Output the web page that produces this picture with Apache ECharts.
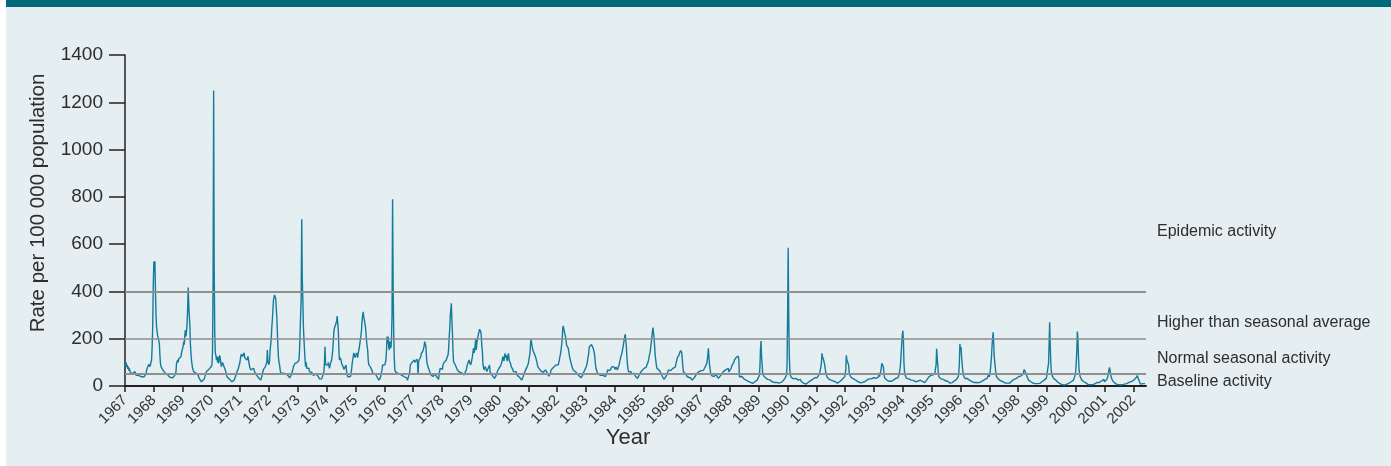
<!DOCTYPE html>
<html>
<head>
<meta charset="utf-8">
<script src="https://cdn.jsdelivr.net/npm/echarts@6/dist/echarts.min.js"></script>
<style>
html,body{margin:0;padding:0;background:#ffffff;}
#bg{position:absolute;left:6px;top:0;width:1385px;height:466px;background:#e5eef1;}
#bar{position:absolute;left:6px;top:0;width:1385px;height:7px;background:#006a7b;}
#chart{position:absolute;left:0;top:0;width:1391px;height:466px;}
</style>
</head>
<body>
<div id="bg"></div>
<div id="bar"></div>
<div id="chart"></div>
<script>
// Weekly rate per 100 000 population, [week of year, rate]
const y1967 = [[1,96],[2,85],[3,100],[4,80],[5,90],[6,72],[7,82],[8,65],[9,75],[10,60],[12,68],[14,52],[15,58],[17,48],[19,61],[21,45],[22,50],[24,40],[25,45],[27,38],[28,51],[30,40],[31,36],[33,32],[35,38],[37,35],[39,50],[40,68],[42,75],[44,92],[46,82],[47,85],[48,80],[49,110],[50,166],[51,250],[52,420]];
const y1968 = [[1,526],[2,480],[3,528],[4,400],[5,300],[6,250],[7,230],[8,212],[9,220],[10,205],[11,180],[12,130],[13,95],[14,82],[15,90],[16,75],[17,80],[18,65],[20,61],[21,68],[22,54],[24,50],[25,55],[26,47],[28,42],[30,37],[31,32],[33,40],[35,35],[37,30],[39,45],[41,60],[42,95],[43,103],[44,110],[45,100],[46,115],[48,120],[50,124],[51,140],[52,150]];
const y1969 = [[1,150],[2,170],[3,188],[4,175],[5,215],[6,237],[7,210],[8,230],[9,260],[10,320],[11,417],[12,350],[13,300],[14,260],[15,180],[16,140],[17,110],[18,90],[19,75],[21,61],[23,65],[25,55],[27,51],[29,45],[31,32],[33,25],[35,18],[37,11],[38,15],[40,30],[42,45],[44,61],[46,68],[48,70],[50,65],[51,72],[52,80]];
const y1970 = [[1,80],[2,90],[3,150],[4,450],[5,1250],[6,500],[7,220],[8,140],[9,130],[10,110],[11,125],[12,100],[13,124],[14,96],[15,110],[16,130],[17,117],[18,95],[19,82],[21,100],[22,103],[24,80],[26,68],[28,50],[29,39],[31,35],[32,32],[34,28],[35,25],[37,20],[38,18],[40,23],[42,25],[44,32],[46,50],[47,61],[49,70],[50,75],[52,95]];
const y1971 = [[1,110],[2,125],[3,135],[4,140],[5,125],[7,124],[8,140],[9,120],[10,127],[12,115],[13,110],[15,125],[16,117],[18,80],[20,68],[22,61],[23,65],[25,75],[27,60],[29,51],[31,50],[32,47],[34,35],[35,32],[37,28],[38,25],[40,40],[41,54],[43,70],[44,75],[46,80],[47,82],[49,100],[50,152],[51,100],[52,96]];
const y1972 = [[1,90],[2,110],[3,152],[4,160],[5,200],[6,250],[7,280],[8,320],[9,364],[10,375],[11,385],[12,383],[13,370],[14,330],[15,293],[16,230],[17,166],[18,120],[19,100],[20,89],[21,70],[22,55],[23,47],[25,52],[26,54],[28,50],[29,47],[31,52],[33,56],[35,45],[36,39],[38,35],[39,32],[41,45],[42,54],[44,70],[45,82],[47,90],[48,96],[50,100],[51,103],[52,100]];
const y1973 = [[1,96],[2,100],[3,110],[4,150],[5,223],[6,300],[7,370],[8,705],[9,450],[10,364],[11,250],[12,200],[13,152],[14,110],[15,82],[16,100],[17,75],[18,68],[19,72],[21,75],[22,60],[24,54],[26,58],[27,61],[29,45],[30,39],[32,42],[34,50],[36,47],[38,40],[40,30],[42,25],[44,30],[46,32],[48,60],[49,96],[50,166],[51,90],[52,85]];
const y1974 = [[1,90],[2,95],[3,89],[4,100],[5,85],[6,75],[7,85],[8,96],[9,96],[10,110],[11,130],[12,152],[13,190],[14,230],[15,244],[16,250],[17,258],[18,260],[19,275],[20,296],[21,293],[22,237],[23,160],[24,110],[25,120],[26,117],[27,110],[28,95],[30,89],[31,80],[32,70],[33,68],[34,80],[36,89],[37,60],[39,39],[41,35],[42,32],[44,40],[45,47],[46,70],[47,95],[48,110],[50,140],[51,138],[52,120]];
const y1975 = [[1,124],[2,115],[3,140],[4,131],[5,120],[6,140],[7,150],[8,152],[9,180],[10,200],[11,216],[12,240],[13,279],[14,300],[15,314],[16,290],[17,280],[18,272],[19,250],[20,223],[21,190],[22,170],[23,152],[24,110],[25,90],[26,82],[27,90],[28,80],[29,75],[31,65],[32,54],[34,58],[35,61],[37,50],[38,47],[40,38],[41,32],[43,25],[44,18],[45,25],[46,35],[47,39],[49,70],[50,89],[51,92],[52,96]];
const y1976 = [[1,96],[2,90],[3,100],[4,110],[5,150],[6,209],[7,180],[8,209],[9,166],[10,152],[11,188],[12,195],[13,160],[14,200],[15,300],[16,790],[17,420],[18,230],[19,120],[20,70],[21,61],[22,58],[23,56],[24,61],[25,54],[27,52],[29,50],[31,47],[33,45],[35,42],[37,39],[39,37],[41,35],[43,25],[45,20],[46,18],[47,60],[48,89],[50,96],[51,100],[52,103]];
const y1977 = [[1,103],[2,105],[3,110],[4,100],[5,108],[6,96],[7,105],[8,113],[9,100],[10,47],[11,105],[12,110],[13,115],[14,117],[15,125],[16,138],[17,130],[18,145],[19,150],[20,152],[21,170],[22,188],[23,195],[24,170],[25,130],[26,100],[27,89],[28,80],[30,68],[31,60],[33,47],[35,55],[37,40],[38,32],[40,50],[42,45],[44,38],[46,32],[47,28],[48,50],[49,65],[50,75],[51,80],[52,82]];
const y1978 = [[1,82],[2,70],[3,90],[4,85],[5,100],[6,103],[7,95],[8,108],[9,110],[10,120],[11,125],[12,130],[13,152],[14,200],[15,237],[16,293],[17,320],[18,350],[19,280],[20,223],[21,150],[22,103],[23,100],[24,96],[25,90],[26,85],[27,82],[29,68],[31,65],[33,58],[35,61],[37,55],[39,50],[41,47],[43,55],[45,68],[47,90],[48,96],[50,110],[51,100],[52,92]];
const y1979 = [[1,89],[2,100],[3,110],[4,124],[5,130],[6,159],[7,140],[8,150],[9,173],[10,200],[11,152],[12,180],[13,195],[14,209],[15,220],[16,230],[17,240],[18,247],[19,230],[20,216],[21,170],[22,152],[23,96],[24,80],[25,68],[26,75],[27,82],[29,70],[30,61],[32,54],[33,60],[35,89],[36,60],[37,54],[39,47],[41,40],[42,39],[44,32],[46,40],[47,45],[49,60],[50,68],[52,75]];
const y1980 = [[1,75],[2,80],[3,85],[4,89],[5,100],[6,110],[7,124],[8,120],[9,105],[10,125],[11,138],[12,120],[13,131],[14,115],[15,105],[16,125],[17,138],[18,120],[19,105],[20,110],[21,95],[22,82],[23,85],[24,89],[25,70],[26,61],[28,58],[29,54],[31,60],[33,45],[34,39],[36,42],[38,35],[39,32],[41,25],[43,35],[45,50],[46,55],[48,68],[50,75],[51,82],[52,89]];
const y1981 = [[1,95],[2,110],[3,125],[4,138],[5,180],[6,197],[7,180],[8,166],[9,152],[10,160],[11,150],[12,145],[13,130],[14,124],[15,115],[16,110],[17,95],[18,82],[20,78],[21,75],[23,65],[24,68],[26,61],[28,58],[29,54],[31,65],[32,68],[34,61],[35,55],[36,47],[38,42],[39,39],[41,55],[42,68],[44,72],[45,75],[47,80],[48,82],[50,85],[51,89],[52,95]];
const y1982 = [[1,89],[2,95],[3,90],[4,96],[5,110],[6,124],[7,135],[8,152],[9,170],[10,195],[11,237],[12,254],[13,250],[14,230],[15,220],[16,209],[17,195],[18,173],[19,170],[20,166],[21,160],[22,152],[23,130],[24,117],[25,110],[27,89],[28,80],[30,68],[32,65],[33,61],[35,58],[36,54],[38,50],[39,47],[41,42],[42,39],[44,35],[45,32],[47,45],[48,54],[50,62],[51,68],[52,75]];
const y1983 = [[1,75],[2,85],[3,95],[4,110],[5,125],[6,138],[7,166],[8,173],[9,170],[10,165],[11,175],[12,178],[13,170],[14,160],[15,152],[16,140],[17,124],[18,95],[19,75],[20,68],[22,54],[24,58],[25,61],[27,45],[28,39],[30,51],[32,45],[34,40],[36,39],[37,45],[39,55],[40,68],[42,75],[44,65],[46,72],[48,82],[50,75],[52,80]];
const y1984 = [[1,75],[2,70],[3,80],[4,72],[6,68],[7,78],[8,82],[9,90],[10,103],[11,110],[12,124],[13,130],[14,140],[15,152],[16,165],[17,180],[18,195],[19,210],[20,219],[21,190],[22,166],[23,120],[24,89],[25,70],[26,60],[27,54],[29,58],[30,61],[32,50],[33,47],[35,52],[36,54],[38,42],[39,39],[41,35],[42,32],[44,40],[45,45],[47,55],[48,61],[50,65],[51,68],[52,70]];
const y1985 = [[1,70],[2,75],[3,68],[4,72],[5,82],[6,80],[7,90],[8,96],[9,100],[10,110],[11,124],[12,130],[13,145],[14,166],[15,185],[16,209],[17,230],[18,247],[19,225],[20,200],[21,166],[22,130],[23,110],[24,90],[25,75],[27,68],[28,72],[30,65],[31,60],[32,55],[33,47],[35,40],[36,32],[38,28],[39,25],[41,35],[43,47],[44,55],[46,68],[47,62],[49,60],[50,65],[52,70]];
const y1986 = [[1,65],[2,75],[3,70],[4,68],[5,72],[6,80],[7,89],[8,100],[9,110],[10,120],[11,124],[12,128],[13,131],[14,140],[15,145],[16,150],[17,152],[18,140],[19,110],[20,80],[21,61],[22,58],[24,54],[25,50],[26,47],[28,39],[30,35],[31,32],[33,35],[35,30],[37,25],[39,30],[40,32],[42,40],[43,47],[45,52],[46,54],[48,58],[49,61],[51,65],[52,68]];
const y1987 = [[1,65],[2,60],[3,68],[4,62],[5,66],[6,70],[7,75],[8,82],[9,85],[10,89],[11,95],[12,110],[13,130],[14,159],[15,120],[16,90],[17,75],[18,54],[19,50],[20,44],[21,47],[22,48],[24,40],[25,32],[27,45],[28,48],[30,40],[32,32],[33,35],[35,40],[37,47],[39,50],[41,61],[43,55],[45,68],[47,60],[48,62],[50,75],[51,60],[52,55]];
const y1988 = [[1,60],[2,62],[3,75],[4,70],[5,89],[6,85],[7,96],[8,100],[9,110],[10,112],[11,117],[12,120],[13,124],[14,126],[15,127],[16,127],[17,110],[18,39],[19,42],[21,37],[23,40],[24,35],[26,30],[27,32],[29,28],[30,25],[32,22],[34,20],[36,18],[38,15],[40,13],[42,11],[44,14],[46,18],[48,22],[50,25],[52,32]];
const y1989 = [[1,32],[2,45],[3,80],[4,152],[5,190],[6,124],[7,90],[8,54],[9,45],[11,39],[13,35],[15,32],[17,28],[19,25],[21,26],[23,20],[25,18],[27,22],[29,15],[31,12],[33,15],[35,11],[37,12],[39,13],[41,15],[43,18],[45,22],[47,25],[48,32],[50,35],[51,45],[52,90]];
const y1990 = [[1,300],[2,585],[3,300],[4,130],[5,68],[6,45],[7,39],[8,35],[10,32],[12,30],[14,28],[16,32],[18,29],[20,25],[22,22],[24,28],[26,18],[28,15],[30,12],[32,10],[34,8],[36,12],[38,15],[40,18],[42,22],[44,25],[46,28],[48,32],[50,35],[52,40]];
const y1991 = [[1,32],[2,35],[3,39],[4,42],[5,45],[6,47],[7,55],[8,68],[9,80],[10,96],[11,138],[12,124],[13,130],[14,110],[15,100],[16,89],[17,70],[18,55],[19,47],[20,40],[21,32],[23,30],[25,28],[27,25],[29,26],[31,22],[33,20],[35,18],[37,15],[39,12],[40,11],[42,15],[44,20],[46,25],[48,30],[50,35],[52,39]];
const y1992 = [[1,45],[2,68],[3,130],[4,110],[5,118],[6,110],[7,90],[8,60],[9,47],[10,40],[12,35],[14,32],[16,30],[18,28],[20,25],[22,20],[24,18],[26,15],[28,14],[30,12],[32,15],[34,13],[36,18],[38,20],[40,25],[42,28],[44,30],[46,32],[48,30],[50,32],[52,35]];
const y1993 = [[1,32],[3,30],[5,33],[7,35],[9,38],[10,56],[11,40],[12,48],[13,61],[14,75],[15,96],[16,103],[17,100],[18,80],[19,47],[20,35],[22,28],[24,25],[26,22],[28,20],[30,18],[32,20],[34,22],[36,25],[38,28],[40,32],[42,35],[44,35],[46,47],[47,60],[48,75],[49,100],[50,138],[51,180],[52,215]];
const y1994 = [[1,234],[2,195],[3,96],[4,60],[5,47],[6,40],[8,32],[10,35],[12,30],[14,28],[16,25],[18,22],[20,24],[22,20],[24,18],[26,15],[28,20],[30,18],[32,25],[34,22],[36,20],[38,18],[40,14],[42,20],[44,25],[46,32],[48,39],[50,42],[52,45]];
const y1995 = [[1,42],[2,45],[3,44],[4,47],[5,50],[6,52],[7,56],[8,75],[9,89],[10,157],[11,120],[12,89],[13,55],[14,39],[16,35],[18,30],[20,32],[22,28],[24,25],[26,22],[28,18],[30,20],[32,15],[34,12],[36,11],[38,14],[40,18],[42,22],[44,25],[46,28],[48,35],[49,40],[50,55],[51,96],[52,178]];
const y1996 = [[1,152],[2,165],[3,125],[4,96],[5,68],[6,47],[7,40],[9,32],[11,28],[13,32],[15,28],[17,25],[19,22],[21,20],[23,18],[25,15],[27,12],[29,15],[31,11],[33,14],[35,18],[37,16],[39,20],[41,22],[43,25],[45,28],[47,30],[49,32],[50,35],[51,40],[52,50]];
const y1997 = [[1,39],[2,50],[3,68],[4,95],[5,124],[6,170],[7,202],[8,227],[9,180],[10,124],[11,100],[12,75],[13,55],[14,39],[16,32],[18,28],[20,25],[22,22],[24,20],[26,18],[28,15],[30,12],[32,10],[34,12],[36,15],[38,12],[40,18],[42,22],[44,25],[46,28],[48,30],[50,32],[52,35]];
const y1998 = [[1,35],[2,40],[3,32],[4,45],[5,38],[6,42],[7,35],[8,48],[9,40],[10,50],[11,60],[12,70],[13,75],[14,62],[15,61],[16,50],[17,40],[18,32],[20,25],[22,22],[24,18],[26,15],[28,12],[30,11],[32,10],[34,8],[36,10],[38,12],[40,11],[42,14],[44,18],[46,20],[48,25],[50,28],[52,32]];
const y1999 = [[1,25],[2,30],[3,40],[4,96],[5,180],[6,270],[7,180],[8,100],[9,61],[10,47],[11,40],[13,32],[15,28],[17,25],[19,18],[21,15],[23,12],[25,10],[27,8],[29,5],[31,5],[33,4],[35,5],[37,8],[39,10],[41,12],[43,14],[45,18],[47,20],[49,25],[51,32],[52,45]];
const y2000 = [[1,61],[2,100],[3,150],[4,230],[5,202],[6,124],[7,70],[8,54],[9,40],[10,32],[12,25],[14,20],[16,18],[18,15],[20,12],[22,8],[24,5],[26,4],[28,5],[30,4],[32,6],[34,8],[36,10],[38,12],[40,15],[42,18],[44,15],[46,20],[48,22],[50,25],[52,28]];
const y2001 = [[1,18],[2,20],[3,22],[4,25],[5,28],[6,30],[7,40],[8,54],[9,68],[10,79],[11,68],[12,50],[13,39],[14,30],[15,25],[17,18],[19,12],[21,10],[23,8],[25,5],[27,4],[29,5],[31,6],[33,5],[35,4],[37,8],[39,6],[41,10],[43,12],[45,15],[47,14],[49,18],[51,20],[52,22]];
const y2002 = [[1,22],[2,25],[3,28],[4,30],[5,32],[6,35],[7,39],[8,44],[9,40],[10,32],[11,25],[12,18],[13,12],[14,8],[15,7],[16,9],[17,7],[18,8],[19,10],[20,9],[21,8],[22,10],[23,9]];

const years = [1967,1968,1969,1970,1971,1972,1973,1974,1975,1976,1977,1978,1979,1980,1981,1982,1983,1984,1985,1986,1987,1988,1989,1990,1991,1992,1993,1994,1995,1996,1997,1998,1999,2000,2001,2002];
const weeklyByYear = [y1967,y1968,y1969,y1970,y1971,y1972,y1973,y1974,y1975,y1976,y1977,y1978,y1979,y1980,y1981,y1982,y1983,y1984,y1985,y1986,y1987,y1988,y1989,y1990,y1991,y1992,y1993,y1994,y1995,y1996,y1997,y1998,y1999,y2000,y2001,y2002];
const thresholds = [400, 200, 50];
const bandLabels = ['Epidemic activity','Higher than seasonal average','Normal seasonal activity','Baseline activity'];
const bandLabelValues = [651, 270, 114, 20];
const xName = 'Year';
const yName = 'Rate per 100 000 population';

const seriesData = [];
years.forEach((yr, i) => {
  weeklyByYear[i].forEach(([w, v]) => seriesData.push([yr + (w - 1) / 52, v]));
});

const FONT = '"Liberation Sans", Arial, Helvetica, sans-serif';
const chart = echarts.init(document.getElementById('chart'), null, {renderer: 'canvas'});

const gridLeft = 125, gridRight = 245, gridTop = 55, gridBottom = 80;
const plotH = 466 - gridTop - gridBottom;

const option = {
  animation: false,
  backgroundColor: 'transparent',
  grid: {left: gridLeft, right: gridRight, top: gridTop, bottom: gridBottom, containLabel: false, outerBoundsMode: 'none'},
  xAxis: {
    type: 'value', min: 1967, max: 2002.44,
    axisLine: {show: true, onZero: false, lineStyle: {color: '#231f20', width: 2}},
    axisTick: {show: true, length: 6, lineStyle: {color: '#231f20', width: 1.5}, customValues: years},
    axisLabel: {show: true, rotate: 45, margin: 12, fontSize: 15, color: '#333', fontFamily: FONT,
      customValues: years, formatter: v => String(v), hideOverlap: false},
    splitLine: {show: false}
  },
  yAxis: {
    type: 'value', min: 0, max: 1400, interval: 200,
    axisLine: {show: true, lineStyle: {color: '#231f20', width: 1.5}},
    axisTick: {show: true, length: 16, lineStyle: {color: '#231f20', width: 1.5}},
    axisLabel: {show: true, margin: 22, fontSize: 19, color: '#2d2d2d', fontFamily: FONT, formatter: v => String(v)},
    splitLine: {show: false}
  },
  series: [
    {
      type: 'line', data: [], z: 1, silent: true,
      markLine: {
        silent: true, symbol: ['none','none'], animation: false,
        label: {show: false},
        data: thresholds.map((t, i) => ({yAxis: t, lineStyle: {color: i === 1 ? '#8c8c8c' : '#8f8f8f', width: i === 1 ? 1.5 : 2, type: 'solid'}}))
      }
    },
    {
      type: 'line', data: seriesData, z: 3, showSymbol: false, symbol: 'none', smooth: false,
      sampling: null,
      lineStyle: {color: '#157b9d', width: 1.4},
      emphasis: {disabled: true}
    }
  ],
  graphic: [
    {type: 'text', x: 38, y: 203, rotation: Math.PI / 2,
      style: {text: yName, font: '20.5px ' + FONT, fill: '#2d2d2d', textAlign: 'center', textVerticalAlign: 'middle'}},
    {type: 'text', x: 628, y: 438,
      style: {text: xName, font: '22px ' + FONT, fill: '#2d2d2d', textAlign: 'center', textVerticalAlign: 'middle'}}
  ].concat(bandLabels.map((t, i) => ({
    type: 'text', x: 1157, y: gridTop + plotH * (1 - bandLabelValues[i] / 1400),
    style: {text: t, font: '16px ' + FONT, fill: '#2d2d2d', textAlign: 'left', textVerticalAlign: 'middle'}
  })))
};
chart.setOption(option);
</script>
</body>
</html>
